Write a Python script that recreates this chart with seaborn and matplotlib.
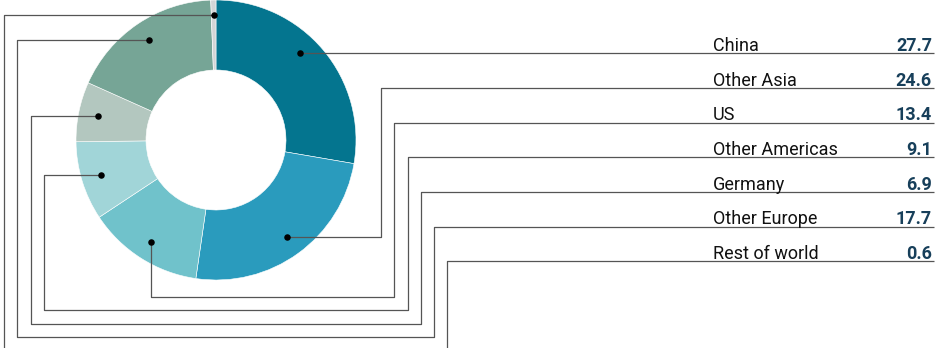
import numpy as np
import pandas as pd
import matplotlib
matplotlib.use("Agg")
import matplotlib.pyplot as plt
import seaborn as sns

# ---- data ----
categories = ["China", "Other Asia", "US", "Other Americas", "Germany", "Other Europe", "Rest of world"]
values = [27.7, 24.6, 13.4, 9.1, 6.9, 17.7, 0.6]
value_labels = ["27.7", "24.6", "13.4", "9.1", "6.9", "17.7", "0.6"]
colors = ["#04758f", "#2a9bbd", "#70c2cb", "#a1d5d8", "#b3c7bf", "#76a596", "#d3d5d6"]

sns.set_theme(style="white")
plt.rcParams["font.family"] = ["Roboto", "DejaVu Sans"]

W, H = 937, 348
fig = plt.figure(figsize=(W / 100, H / 100), dpi=100)
ax = fig.add_axes([0, 0, 1, 1])

def Y(py):
    return H - py

# ---- layout ----
cx, cy, R = 216, 140, 140
ax.pie(values, colors=colors, startangle=90, counterclock=False,
       center=(cx, Y(cy)), radius=R,
       wedgeprops=dict(width=R * 0.5, edgecolor="white", linewidth=0.4))

row0, row_step = 53.3, 34.67
rows = [row0 + i * row_step for i in range(len(categories))]
table_x1 = 934
label_x, value_x = 713, 932

# dot positions at mid angle
cum = np.cumsum([0] + values[:-1])
mids = 90 - (cum + np.array(values) / 2) * 3.6
rd = R * 0.86
dots = []
for i, a in enumerate(mids):
    r_i = R * 0.89 if i == len(values) - 1 else rd
    if i == 0:
        dy = cy - rows[0]
        dx = np.sqrt(rd ** 2 - dy ** 2)
        dots.append((cx + dx, rows[0]))
    else:
        dots.append((cx + r_i * np.cos(np.radians(a)), cy - r_i * np.sin(np.radians(a))))

xr = [381 + 13.3 * k for k in range(6)]
lanes = [297 + 13.4 * k for k in range(5)]
xl = [44 - 13.3 * k for k in range(4)]

line_kw = dict(color="#555555", lw=0.9, solid_capstyle="butt", zorder=3)

for i, (dx_, dy_) in enumerate(dots):
    if i == 0:
        pts = [(dx_, dy_), (table_x1, rows[0])]
    elif i == 1:
        pts = [(dx_, dy_), (xr[0], dy_), (xr[0], rows[1]), (table_x1, rows[1])]
    elif i == 2:
        pts = [(dx_, dy_), (dx_, lanes[0]), (xr[1], lanes[0]), (xr[1], rows[2]), (table_x1, rows[2])]
    else:
        k = i - 3
        pts = [(dx_, dy_), (xl[k], dy_), (xl[k], lanes[k + 1]), (xr[i - 1], lanes[k + 1]),
               (xr[i - 1], rows[i]), (table_x1, rows[i])]
    xs = [p[0] for p in pts]
    ys = [Y(p[1]) for p in pts]
    ax.plot(xs, ys, **line_kw)

dot_df = pd.DataFrame({"x": [d[0] for d in dots], "y": [Y(d[1]) for d in dots]})
sns.scatterplot(data=dot_df, x="x", y="y", color="black", s=22, linewidth=0, ax=ax, zorder=5, legend=False)

for i, (cat, vl) in enumerate(zip(categories, value_labels)):
    ax.text(label_x, Y(rows[i] - 2.2), cat, fontsize=13, color="#111111", ha="left", va="baseline")
    ax.text(value_x, Y(rows[i] - 2.2), vl, fontsize=13, color="#173f5a", fontweight="bold",
            ha="right", va="baseline")

ax.set_xlim(0, W)
ax.set_ylim(0, H)
ax.set_aspect("auto")
ax.axis("off")
fig.savefig("out.png", dpi=100)
